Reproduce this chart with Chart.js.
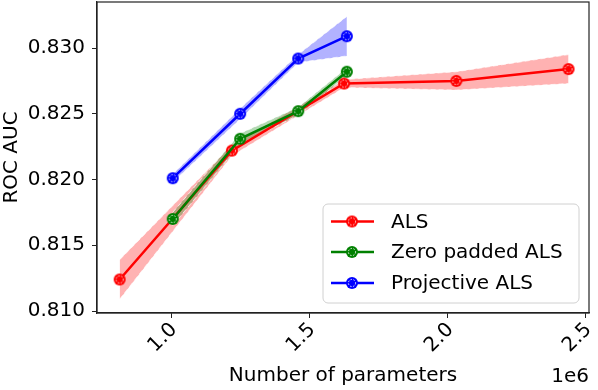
<!DOCTYPE html>
<html>
<head>
<meta charset="utf-8">
<script src="https://cdn.jsdelivr.net/npm/chart.js@4.4.1/dist/chart.umd.min.js"></script>
<style>
  html, body { margin: 0; padding: 0; background: #fff; }
  canvas { display: block; }
</style>
</head>
<body>
<canvas id="rocChart" width="598" height="390"></canvas>
<script>
// values
const alsParams = [814000, 1220000, 1626000, 2032000, 2438000];
const alsAuc = [0.8124, 0.8222, 0.8273, 0.8275, 0.8284];
const alsSpread = [0.0015, 0.0004, 0.0003, 0.0007, 0.0011];

const zeroParams = [1006000, 1250000, 1460000, 1636000];
const zeroAuc = [0.8170, 0.8231, 0.8252, 0.8282];
const zeroSpread = [0.0005, 0.0004, 0.0003, 0.0003];

const projParams = [1006000, 1250000, 1460000, 1636000];
const projAuc = [0.8201, 0.8250, 0.8292, 0.8309];
const projSpread = [0.0003, 0.0004, 0.0003, 0.0015];

const seriesLabels = ['ALS', 'Zero padded ALS', 'Projective ALS'];
const xTicks = [1000000, 1500000, 2000000, 2500000];
const yTicks = [0.810, 0.815, 0.820, 0.825, 0.830];

const FONT = 'DejaVu Sans';
const colors = ['#ff0000', '#008000', '#0000ff'];
const fills = ['rgba(255,0,0,0.3)', 'rgba(0,128,0,0.3)', 'rgba(0,0,255,0.3)'];

function makeMarker(color) {
  const c = document.createElement('canvas');
  c.width = 14; c.height = 14;
  const g = c.getContext('2d');
  g.fillStyle = color;
  g.beginPath(); g.arc(7, 7, 6, 0, Math.PI * 2); g.fill();
  g.strokeStyle = 'rgba(255,255,255,0.85)';
  g.lineWidth = 1;
  g.setLineDash([1.5, 1.5]);
  g.beginPath(); g.arc(7, 7, 3.6, 0, Math.PI * 2); g.stroke();
  return c;
}
const markers = colors.map(makeMarker);

function lineSet(i, xs, ys, order) {
  return {
    label: seriesLabels[i],
    data: xs.map((x, k) => ({ x: x, y: ys[k] })),
    borderColor: colors[i],
    backgroundColor: colors[i],
    borderWidth: 2.5,
    pointStyle: markers[i],
    pointRadius: 6,
    fill: false,
    order: order
  };
}

function bandSets(i, xs, ys, sp, order) {
  const edge = {
    borderColor: 'rgba(255,255,255,0.7)',
    borderWidth: 1,
    borderDash: [5, 3],
    pointRadius: 0,
    order: order
  };
  return [
    Object.assign({ label: 'band', data: xs.map((x, k) => ({ x: x, y: ys[k] + sp[k] })), fill: false }, edge),
    Object.assign({ label: 'band', data: xs.map((x, k) => ({ x: x, y: ys[k] - sp[k] })), fill: '-1', backgroundColor: fills[i] }, edge)
  ];
}

const datasets = [].concat(
  bandSets(0, alsParams, alsAuc, alsSpread, 5),
  bandSets(1, zeroParams, zeroAuc, zeroSpread, 4),
  bandSets(2, projParams, projAuc, projSpread, 3),
  [lineSet(0, alsParams, alsAuc, 2),
   lineSet(1, zeroParams, zeroAuc, 1),
   lineSet(2, projParams, projAuc, 0)]
);

// spines on top/right, legend box and the 1e6 offset label
const extras = {
  id: 'extras',
  afterDraw(chart) {
    const ctx = chart.ctx;
    const a = chart.chartArea;
    ctx.save();
    ctx.strokeStyle = '#222';
    ctx.lineWidth = 1.2;
    ctx.strokeRect(a.left, a.top, a.right - a.left, a.bottom - a.top);

    // legend
    const bx = 323, by = 204, bw = 256, bh = 99, r = 5;
    ctx.fillStyle = 'rgba(255,255,255,0.8)';
    ctx.strokeStyle = '#d0d0d0';
    ctx.lineWidth = 1;
    ctx.beginPath();
    ctx.moveTo(bx + r, by);
    ctx.arcTo(bx + bw, by, bx + bw, by + bh, r);
    ctx.arcTo(bx + bw, by + bh, bx, by + bh, r);
    ctx.arcTo(bx, by + bh, bx, by, r);
    ctx.arcTo(bx, by, bx + bw, by, r);
    ctx.closePath();
    ctx.fill();
    ctx.stroke();
    const rows = [221.5, 252, 283];
    ctx.font = '20px "' + FONT + '"';
    ctx.textBaseline = 'middle';
    ctx.textAlign = 'left';
    for (let i = 0; i < 3; i++) {
      ctx.strokeStyle = colors[i];
      ctx.lineWidth = 2.5;
      ctx.beginPath();
      ctx.moveTo(331, rows[i]);
      ctx.lineTo(374, rows[i]);
      ctx.stroke();
      ctx.drawImage(markers[i], 352 - 7, rows[i] - 7);
      ctx.fillStyle = '#000';
      ctx.fillText(seriesLabels[i], 391, rows[i] + 1);
    }

    ctx.textAlign = 'right';
    ctx.textBaseline = 'alphabetic';
    ctx.fillText('1e6', 589, 382);
    ctx.restore();
  }
};

const ctx = document.getElementById('rocChart').getContext('2d');
new Chart(ctx, {
  type: 'line',
  data: { datasets: datasets },
  options: {
    responsive: false,
    animation: false,
    layout: { autoPadding: false, padding: { top: 2, right: 9, left: 0, bottom: 0 } },
    plugins: {
      legend: { display: false },
      tooltip: { enabled: false }
    },
    elements: { line: { tension: 0 } },
    scales: {
      x: {
        type: 'linear',
        min: 732000,
        max: 2512000,
        afterBuildTicks: s => { s.ticks = xTicks.map(v => ({ value: v })); },
        afterFit: s => { s.height = 77; s.paddingLeft = 0; s.paddingRight = 0; },
        grid: { drawOnChartArea: false, tickLength: 5, tickColor: '#222' },
        border: { color: '#222', width: 1.2 },
        ticks: {
          autoSkip: false,
          minRotation: 45,
          maxRotation: 45,
          labelOffset: 3,
          padding: 0,
          color: '#000',
          font: { family: FONT, size: 20 },
          callback: v => (v / 1e6).toFixed(1)
        },
        title: {
          display: true,
          text: 'Number of parameters',
          color: '#000',
          font: { family: FONT, size: 20 },
          padding: { top: 0, bottom: 2 }
        }
      },
      y: {
        min: 0.80985,
        max: 0.8335,
        afterBuildTicks: s => { s.ticks = yTicks.map(v => ({ value: v })); },
        afterFit: s => { s.width = 97; s.paddingTop = 0; s.paddingBottom = 0; },
        grid: { drawOnChartArea: false, tickLength: 5, tickColor: '#222' },
        border: { color: '#222', width: 1.2 },
        ticks: {
          padding: 7,
          color: '#000',
          font: { family: FONT, size: 20 },
          callback: v => v.toFixed(3)
        },
        title: {
          display: true,
          text: 'ROC AUC',
          color: '#000',
          font: { family: FONT, size: 20 },
          padding: { top: 0, bottom: 0 }
        }
      }
    }
  },
  plugins: [extras]
});
</script>
</body>
</html>
